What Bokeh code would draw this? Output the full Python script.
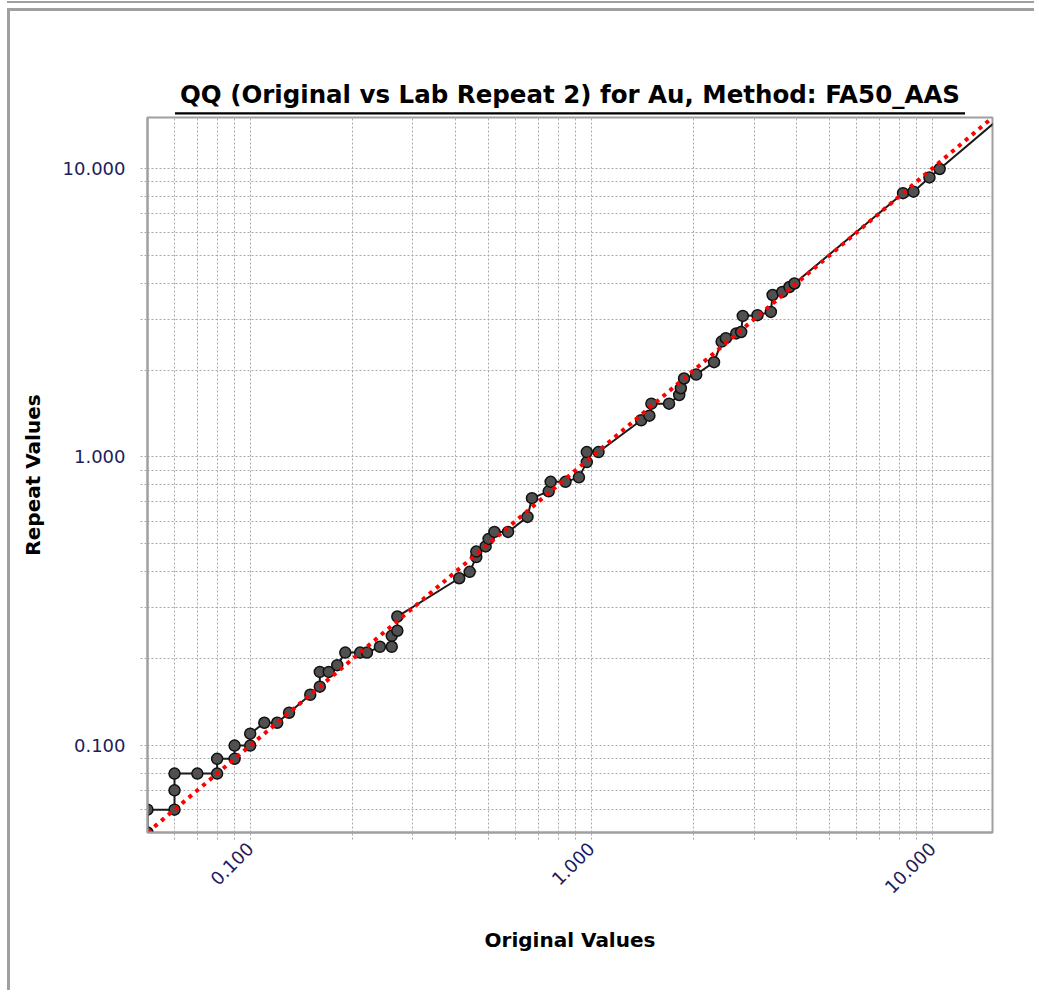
import math
from bokeh.plotting import figure
from bokeh.models import FixedTicker, PrintfTickFormatter, Range1d, ColumnDataSource, Title
from bokeh.embed import file_html
from bokeh.resources import INLINE

# ---- data ----
original = [0.05, 0.05, 0.06, 0.06, 0.06, 0.07, 0.08, 0.08, 0.09, 0.09,
            0.10, 0.10, 0.11, 0.12, 0.13, 0.15, 0.16, 0.16, 0.17, 0.18,
            0.19, 0.21, 0.22, 0.24, 0.26, 0.26, 0.27, 0.27, 0.41, 0.44,
            0.46, 0.46, 0.49, 0.50, 0.52, 0.57, 0.65, 0.67, 0.75, 0.76,
            0.84, 0.92, 0.97, 0.97, 1.05, 1.40, 1.48, 1.50, 1.69, 1.81,
            1.83, 1.87, 2.03, 2.29, 2.41, 2.48, 2.66, 2.75, 2.78, 3.07,
            3.36, 3.40, 3.63, 3.81, 3.94, 8.2, 8.8, 9.8, 10.5, 21.0]
repeat = [0.05, 0.06, 0.06, 0.07, 0.08, 0.08, 0.08, 0.09, 0.09, 0.10,
          0.10, 0.11, 0.12, 0.12, 0.13, 0.15, 0.16, 0.18, 0.18, 0.19,
          0.21, 0.21, 0.21, 0.22, 0.22, 0.24, 0.25, 0.28, 0.38, 0.40,
          0.45, 0.47, 0.49, 0.52, 0.55, 0.55, 0.62, 0.72, 0.76, 0.82,
          0.82, 0.85, 0.96, 1.04, 1.04, 1.34, 1.39, 1.53, 1.53, 1.64,
          1.73, 1.87, 1.93, 2.13, 2.51, 2.58, 2.68, 2.71, 3.08, 3.10,
          3.18, 3.64, 3.73, 3.88, 3.99, 8.2, 8.3, 9.3, 9.95, 19.9]
ref_x = [0.05, 15.0]
ref_y = [0.05, 15.0]
major_ticks = [0.1, 1.0, 10.0]
minor_ticks = [0.06, 0.07, 0.08, 0.09,
               0.2, 0.3, 0.4, 0.5, 0.6, 0.7, 0.8, 0.9,
               2, 3, 4, 5, 6, 7, 8, 9]
axis_min, axis_max = 0.05, 15.0
title_text = "QQ (Original vs Lab Repeat 2) for Au, Method: FA50_AAS"
x_title = "Original Values"
y_title = "Repeat Values"

W, H = 1027, 982
GRID = "#a8a8a8"
BORDER = "#a0a0a0"

p = figure(width=W, height=H, x_axis_type="log", y_axis_type="log",
           x_range=Range1d(axis_min, axis_max), y_range=Range1d(axis_min, axis_max),
           output_backend="svg", toolbar_location=None, title=None,
           min_border_left=137, min_border_right=45,
           min_border_top=106, min_border_bottom=161,
           background_fill_color="white", border_fill_color="white")
p.margin = (8, 0, 0, 7)
p.styles = {"border-left": "3px solid #a0a0a0",
            "border-top": "3px solid #a0a0a0",
            "box-shadow": "0 -5px 0 0 white, 0 -7px 0 0 #a0a0a0"}

# underline of the title (nearest to the frame), then the title itself
underline = Title(text="\u2003" * 395, align="center", text_font="DejaVu Sans",
                  text_font_size="2px", background_fill_color="black",
                  text_color="black", standoff=6, padding=0)
p.add_layout(underline, "above")
main_title = Title(text=title_text, align="center", text_font="DejaVu Sans",
                   text_font_size="24.5px", text_font_style="bold",
                   text_color="black", standoff=-3)
p.add_layout(main_title, "above")

p.outline_line_color = BORDER
p.outline_line_width = 2

for ax in (p.xaxis[0], p.yaxis[0]):
    ax.ticker = FixedTicker(ticks=major_ticks, minor_ticks=minor_ticks)
    ax.formatter = PrintfTickFormatter(format="%.3f")
    ax.axis_line_color = BORDER
    ax.axis_line_width = 2
    ax.major_tick_line_color = GRID
    ax.minor_tick_line_color = GRID
    ax.major_tick_line_dash = "2 2"
    ax.minor_tick_line_dash = "2 2"
    ax.major_tick_in = 0
    ax.major_tick_out = 7
    ax.minor_tick_in = 0
    ax.minor_tick_out = 7
    ax.major_label_text_font = "DejaVu Sans"
    ax.major_label_text_font_size = "18px"
    ax.major_label_text_color = "#1c1c5c"
    ax.axis_label_text_font = "DejaVu Sans"
    ax.axis_label_text_font_size = "20px"
    ax.axis_label_text_font_style = "bold"
    ax.axis_label_text_color = "black"

p.xaxis.axis_label = x_title
p.yaxis.axis_label = y_title
p.xaxis.major_label_orientation = math.pi / 4
p.xaxis.major_label_standoff = 6
p.yaxis.major_label_standoff = 15
p.xaxis.axis_label_standoff = 26
p.yaxis.axis_label_standoff = 15

for g in (p.xgrid[0], p.ygrid[0]):
    g.grid_line_color = GRID
    g.grid_line_dash = "2 2"
    g.grid_line_width = 1
    g.minor_grid_line_color = GRID
    g.minor_grid_line_dash = "2 2"
    g.minor_grid_line_width = 1

src = ColumnDataSource(dict(x=original, y=repeat))
p.line("x", "y", source=src, line_color="#1a1a1a", line_width=2)
p.scatter("x", "y", source=src, size=11, fill_color="#505050",
          line_color="#111111", line_width=1.5)
p.line(ref_x, ref_y, line_color="#ff0000", line_width=4, line_dash="4 5")

open("out.html", "w").write(file_html(p, INLINE))
